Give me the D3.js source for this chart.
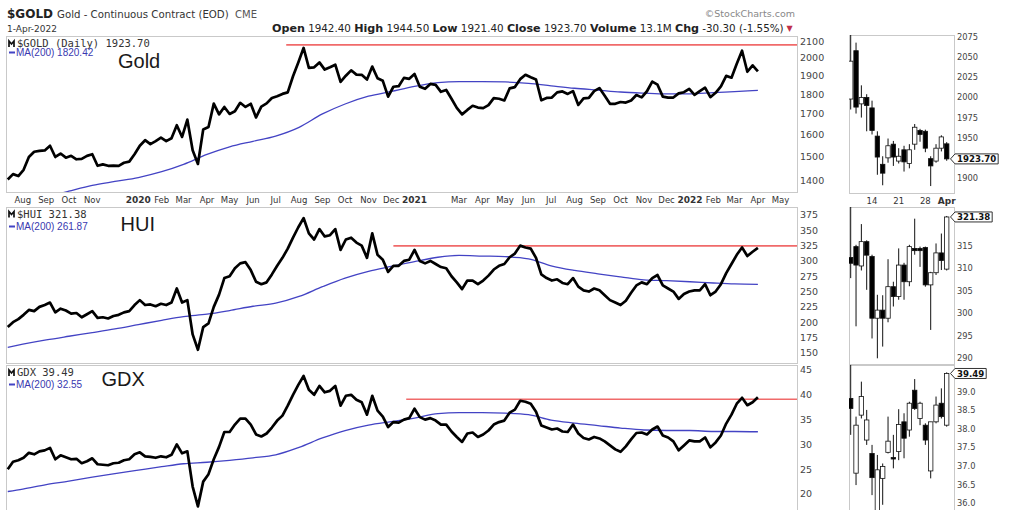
<!DOCTYPE html>
<html><head><meta charset="utf-8">
<script src="https://cdn.jsdelivr.net/npm/d3@7"></script>
<style>
body{margin:0;background:#fff;}
svg{display:block;font-family:"DejaVu Sans",sans-serif;}
</style></head><body>
<svg id="c" width="1027" height="510"></svg>
<script>
// ---------- DATA ----------
const weekStart = "2019-07-12"; // weekly closes, one per Friday through 2022-04-01
const goldClose = [1405,1427,1419,1445,1500,1523,1527,1529,1550,1500,1515,1497,1505,1490,1492,1505,1512,1462,1468,1462,1463,1462,1475,1480,1512,
1550,1575,1557,1571,1587,1571,1584,1645,1590,1672,1530,1470,1625,1637,1752,1698,1735,1700,1713,1756,1735,1751,1683,1737,1753,1781,1790,1802,1810,1897,1975,2060,1944,1947,1975,1934,1947,1962,1866,1900,1930,1906,1905,1879,1951,1886,1872,1788,1840,1843,1888,1883,
1910,1840,1829,1855,1850,1813,1823,1777,1730,1698,1720,1741,1732,1729,1744,1780,1777,1768,1831,1838,1881,1905,1891,1879,1769,1781,1783,1810,1815,1802,1817,1745,1779,1781,1817,1833,1792,1751,1751,1760,1757,1768,1796,1784,1816,1868,1851,1788,1783,1783,1805,1811,1829,
1797,1817,1835,1785,1808,1842,1899,1889,1967,2043,1922,1958,1923.7];
const huiClose = [192,200,205,212,220,218,225,228,232,216,222,219,214,215,208,213,218,207,208,206,210,212,216,218,228,
236,228,229,226,230,228,232,255,232,236,180,155,192,198,225,245,272,275,288,296,298,285,266,262,265,278,292,305,320,338,355,370,345,335,352,340,342,352,318,335,338,330,325,305,345,310,302,282,292,292,300,302,
318,300,296,300,295,290,288,275,265,254,268,268,262,268,276,286,292,295,306,312,325,322,320,305,278,272,268,270,264,262,272,258,252,250,255,252,244,236,232,228,235,248,260,265,262,272,277,260,255,250,238,246,250,
252,252,262,244,250,262,280,295,310,322,308,315,321.38];
const gdxClose = [25.0,26.5,26.8,27.3,28.3,28.0,28.6,28.8,29.3,27.0,27.8,27.4,27.0,27.1,26.2,26.6,27.2,26.0,25.9,25.8,26.2,26.3,26.8,27.0,28.0,
28.4,27.6,27.5,27.3,27.6,27.4,27.9,30.0,28.2,28.6,21.5,17.5,22.5,24.0,27.0,29.5,32.5,32.5,34.0,35.2,35.2,34.0,32.0,31.6,32.2,33.4,34.8,35.8,37.8,40.0,42.0,43.8,41.0,40.0,41.8,40.5,40.8,41.8,37.8,39.8,40.0,39.0,38.5,36.0,39.8,36.8,35.6,33.5,34.5,34.4,35.0,35.3,
37.2,35.5,35.0,35.3,34.8,34.0,34.0,32.6,31.5,30.5,32.2,32.4,31.5,32.0,32.8,34.0,34.5,34.8,36.4,37.0,38.8,38.6,38.2,36.6,33.8,33.4,33.0,33.2,32.6,32.5,34.0,32.2,31.3,31.0,31.5,31.2,30.6,29.8,29.0,28.5,29.6,31.0,32.3,32.4,32.0,33.0,33.6,31.8,31.4,30.6,28.8,29.8,30.8,
30.6,30.6,31.4,29.4,30.4,31.8,34.2,36.0,38.2,39.4,37.9,38.5,39.49];

const maDates = ["2019-07-12","2019-08-01","2019-09-01","2019-10-01","2019-11-01","2019-12-01","2020-01-01","2020-02-01","2020-03-01","2020-04-01","2020-05-01","2020-06-01","2020-07-01","2020-08-01","2020-09-01","2020-10-01","2020-11-01","2020-12-01","2021-01-01","2021-02-01","2021-03-01","2021-04-01","2021-05-01","2021-06-01","2021-07-01","2021-08-01","2021-09-01","2021-10-01","2021-11-01","2021-12-01","2022-01-01","2022-02-01","2022-03-01","2022-04-01"];
const goldMA = [1300,1318,1335,1358,1381,1397,1413,1437,1468,1511,1545,1570,1594,1635,1700,1750,1790,1815,1842,1862,1868,1868,1866,1858,1845,1832,1822,1812,1806,1802,1802,1809,1814,1820.42];
const huiMA = [159,164,171,177,183,189,196,203,209,213,219,226,231,242,258,272,283,291,299,306,309,308,307,303.5,292,284.5,279,274,269,267.7,266,264,262.5,261.87];
const gdxMA = [20.5,21.0,21.9,22.6,23.4,24.1,24.8,25.5,26.1,26.4,26.8,27.3,27.9,29.4,31.3,32.8,33.9,34.6,35.3,36.2,36.4,36.4,36.3,36.0,34.9,34.3,33.8,33.3,32.9,32.8,32.8,32.6,32.6,32.55];

// horizontal resistance lines: start date, level
const goldRes = ["2020-07-15", 2078];
const huiRes = ["2020-12-04", 324.6];
const gdxRes = ["2020-12-21", 39.1];

const goldTicks = [1400,1500,1600,1700,1800,1900,2000,2100];
const huiTicks = [150,175,200,225,250,275,300,325,350,375];
const gdxTicks = [20,25,30,35,40,45];

const monthTicks = [["2019-08-01","Aug"],["2019-09-01","Sep"],["2019-10-01","Oct"],["2019-11-01","Nov"],
["2020-01-01","2020"],["2020-02-01","Feb"],["2020-03-01","Mar"],["2020-04-01","Apr"],["2020-05-01","May"],["2020-06-01","Jun"],["2020-07-01","Jul"],["2020-08-01","Aug"],["2020-09-01","Sep"],["2020-10-01","Oct"],["2020-11-01","Nov"],["2020-12-01","Dec"],
["2021-01-01","2021"],["2021-03-01","Mar"],["2021-04-01","Apr"],["2021-05-01","May"],["2021-06-01","Jun"],["2021-07-01","Jul"],["2021-08-01","Aug"],["2021-09-01","Sep"],["2021-10-01","Oct"],["2021-11-01","Nov"],["2021-12-01","Dec"],
["2022-01-01","2022"],["2022-02-01","Feb"],["2022-03-01","Mar"],["2022-04-01","Apr"],["2022-05-01","May"]];

// mini daily candles
const miniDates = ["2022-03-08","2022-03-09","2022-03-10","2022-03-11","2022-03-14","2022-03-15","2022-03-16","2022-03-17","2022-03-18","2022-03-21","2022-03-22","2022-03-23","2022-03-24","2022-03-25","2022-03-28","2022-03-29","2022-03-30","2022-03-31","2022-04-01"];
const miniTicks = [["2022-03-14","14"],["2022-03-21","21"],["2022-03-28","28"],["2022-04-01","Apr"]];
const goldO = [1998,2058,1992,2000,1987,1952,1917,1925,1942,1921,1935,1918,1942,1959,1958,1924,1921,1937,1942.4];
const goldH = [2078,2068,2015,2004,1996,1958,1927,1949,1946,1937,1940,1942,1967,1961,1960,1927,1942,1953,1944.5];
const goldL = [1985,1980,1975,1958,1954,1904,1891,1919,1915,1918,1908,1912,1935,1945,1932,1890,1919,1933,1921.4];
const goldC = [2045,1988,2000,1990,1959,1926,1906,1940,1926,1927,1920,1935,1963,1954,1937,1915,1937,1951,1923.7];
const huiO = [312.4,314.8,310.5,315.9,312.6,298.9,300.7,298.9,305.9,303.7,310.7,307.0,314.4,314.4,314.6,306.3,309.0,313.4,309.8];
const huiH = [323.7,315.2,319.8,316.2,313.0,304.1,304.0,312.0,307.0,314.4,311.2,315.2,321.0,314.8,314.8,309.2,315.5,317.7,321.6];
const huiL = [307.8,297.1,309.5,305.2,294.4,290.0,292.6,298.0,301.5,303.0,303.0,306.0,313.0,310.3,305.9,296.3,308.5,309.6,309.5];
const huiC = [311.1,310.7,315.9,312.9,298.9,300.7,298.9,305.9,303.7,310.7,307.0,314.8,313.9,313.9,306.3,309.0,313.4,311.7,321.38];
const gdxO = [38.82,36.81,38.37,37.70,37.34,35.78,36.67,37.37,37.23,37.39,38.19,37.97,39.04,38.28,38.10,36.87,38.19,38.69,38.10];
const gdxH = [39.72,38.33,39.27,38.51,37.57,37.30,37.07,38.33,37.84,38.53,38.42,38.73,39.34,38.73,38.15,38.19,38.87,39.09,39.52];
const gdxL = [37.84,36.49,38.28,37.57,36.22,35.60,35.96,37.34,36.94,37.16,37.21,37.79,38.51,38.10,37.57,36.67,38.15,38.28,38.06];
const gdxC = [38.55,38.10,38.87,38.24,36.69,36.90,36.99,37.67,37.19,38.12,37.75,38.69,38.55,38.69,37.70,38.19,38.64,38.33,39.49];
// tick labels hidden behind the last-price boxes are left out
const goldMiniTicks = [1900,1950,1975,2000,2025,2050,2075];
const huiMiniTicks = [290,295,300,305,310,315];
const gdxMiniTicks = [36,36.5,37,37.5,38,38.5,39];

// ---------- DRAW ----------
const parse = d3.timeParse("%Y-%m-%d");
const svg = d3.select("#c");
const PL = 6, PR = 797, ML = 849, MR = 954;
const BLUE = "#4343c4", RED = "#f06a6a", BORDER = "#c9c9c9";

const t0 = parse(weekStart);
const weekDates = goldClose.map((_, i) => d3.timeDay.offset(t0, 7 * i));
const x = d3.scaleTime().domain([parse("2019-07-12"), parse("2022-04-01")]).range([7.75, 757.9]);
const maD = maDates.map(parse);

const panels = [
  {id:"g", top:36, bottom:192, y:d3.scaleLog().domain([1400,2100]).range([180.7,41.3]), ticks:goldTicks, fmt:d3.format("d"),
   close:goldClose, ma:goldMA, res:goldRes, title:"$GOLD (Daily) 1923.70", maText:"MA(200) 1820.42", big:"Gold", bigX:118, tY:11, mY:20, bY:32},
  {id:"h", top:207, bottom:363, y:d3.scaleLinear().domain([150,375]).range([352.8,215]), ticks:huiTicks, fmt:d3.format("d"),
   close:huiClose, ma:huiMA, res:huiRes, title:"$HUI 321.38", maText:"MA(200) 261.87", big:"HUI", bigX:120.5, tY:10.5, mY:23, bY:24},
  {id:"x", top:365, bottom:512, y:d3.scaleLinear().domain([20,45]).range([494,370]), ticks:gdxTicks, fmt:d3.format("d"),
   close:gdxClose, ma:gdxMA, res:gdxRes, title:"GDX 39.49", maText:"MA(200) 32.55", big:"GDX", bigX:101.5, tY:11, mY:23, bY:21}
];

const defs = svg.append("defs");

panels.forEach(p => {
  defs.append("clipPath").attr("id","clip"+p.id).append("rect")
    .attr("x",PL).attr("y",p.top).attr("width",PR-PL).attr("height",p.bottom-p.top);
  const g = svg.append("g");
  g.append("rect").attr("x",PL+0.5).attr("y",p.top+0.5).attr("width",PR-PL).attr("height",p.bottom-p.top)
    .attr("fill","#fff").attr("stroke",BORDER).attr("stroke-width",1);
  const c = g.append("g").attr("clip-path","url(#clip"+p.id+")");
  c.append("line").attr("x1",x(parse(p.res[0]))).attr("x2",PR).attr("y1",p.y(p.res[1])).attr("y2",p.y(p.res[1]))
    .attr("stroke",RED).attr("stroke-width",1.6);
  c.append("path").datum(p.ma.map((v,i)=>({d:maD[i],v})))
    .attr("d", d3.line().x(d=>x(d.d)).y(d=>p.y(d.v)).curve(d3.curveMonotoneX))
    .attr("fill","none").attr("stroke",BLUE).attr("stroke-width",1.3);
  c.append("path").datum(p.close.map((v,i)=>({d:weekDates[i],v})))
    .attr("d", d3.line().x(d=>x(d.d)).y(d=>p.y(d.v)))
    .attr("fill","none").attr("stroke","#000").attr("stroke-width",2.7).attr("stroke-linejoin","round");
  g.selectAll(".yt").data(p.ticks).enter().append("text")
    .attr("x",800).attr("y",d=>p.y(d)).attr("dy","0.36em")
    .attr("font-size",9.5).attr("fill","#454545").text(p.fmt);
  g.append("path").attr("d",`M${PL+3},${p.top+p.tY}v-6l2.5,3l2.5,-3v6`).attr("fill","none").attr("stroke","#111").attr("stroke-width",1.7);
  g.append("text").attr("x",PL+11).attr("y",p.top+p.tY).attr("font-family","DejaVu Sans Mono, monospace")
    .attr("font-size",10.5).attr("fill","#333").text(p.title);
  g.append("line").attr("x1",PL+3).attr("x2",PL+9).attr("y1",p.top+p.mY-3.5).attr("y2",p.top+p.mY-3.5).attr("stroke",BLUE).attr("stroke-width",2);
  g.append("text").attr("x",PL+10).attr("y",p.top+p.mY).attr("font-family","Liberation Sans, Arial, sans-serif")
    .attr("font-size",10).attr("fill","#3838b0").text(p.maText);
  g.append("text").attr("x",p.bigX).attr("y",p.top+p.bY).attr("font-family","Liberation Sans, Arial, sans-serif")
    .attr("font-size",20).attr("fill","#1a1a1a").text(p.big);
});

svg.selectAll(".xt").data(monthTicks).enter().append("text")
  .attr("x",d=>x(parse(d[0]))).attr("y",203).attr("text-anchor","middle")
  .attr("font-size",d=>/^\d+$/.test(d[1])?9:8.5).attr("font-weight",d=>/^\d+$/.test(d[1])?"bold":"normal")
  .attr("fill","#333").text(d=>d[1]);

// ---------- MINI PANELS ----------
const mx = d3.scalePoint().domain(miniDates).range([850.7, 946.7]);
const minis = [
  {id:"mg", top:35, bottom:193, y:d3.scaleLinear().domain([1900,2075]).range([178,37]), O:goldO,H:goldH,L:goldL,C:goldC, ticks:goldMiniTicks, fmt:d3.format("d"), last:"1923.70", lastV:1923.7},
  {id:"mh", top:207, bottom:364, y:d3.scaleLinear().domain([290,315]).range([358.3,245.7]), O:huiO,H:huiH,L:huiL,C:huiC, ticks:huiMiniTicks, fmt:d3.format("d"), last:"321.38", lastV:321.38},
  {id:"mx", top:365, bottom:512, y:d3.scaleLinear().domain([36,39]).range([503.3,391.7]), O:gdxO,H:gdxH,L:gdxL,C:gdxC, ticks:gdxMiniTicks, fmt:d3.format(".1f"), last:"39.49", lastV:39.49}
];
minis.forEach(m => {
  defs.append("clipPath").attr("id","clip"+m.id).append("rect")
    .attr("x",ML).attr("y",m.top).attr("width",MR-ML).attr("height",m.bottom-m.top);
  const g = svg.append("g");
  g.append("rect").attr("x",ML+0.5).attr("y",m.top+0.5).attr("width",MR-ML).attr("height",m.bottom-m.top)
    .attr("fill","#fff").attr("stroke",BORDER);
  const c = g.append("g").attr("clip-path","url(#clip"+m.id+")");
  miniDates.forEach((d,i) => {
    const cx = mx(d);
    c.append("line").attr("x1",cx).attr("x2",cx).attr("y1",m.y(m.H[i])).attr("y2",m.y(m.L[i])).attr("stroke","#111").attr("stroke-width",1);
    const up = m.C[i] >= m.O[i];
    const y1 = m.y(Math.max(m.O[i],m.C[i])), y2 = m.y(Math.min(m.O[i],m.C[i]));
    c.append("rect").attr("x",cx-2.2).attr("width",4.4).attr("y",y1).attr("height",Math.max(1,y2-y1))
      .attr("fill",up?"#fff":"#000").attr("stroke","#111").attr("stroke-width",0.8);
  });
  g.selectAll(".mt").data(m.ticks).enter().append("text")
    .attr("x",957).attr("y",d=>m.y(d)).attr("dy","0.36em").attr("font-size",8.3).attr("fill","#454545").text(m.fmt);
  const yc = m.y(m.lastV);
  const t = g.append("text").attr("x",957).attr("y",yc).attr("dy","0.36em").attr("font-size",8.6).attr("font-weight","bold").attr("fill","#111").text(m.last);
  const w = t.node().getComputedTextLength();
  g.insert("path", () => t.node())
    .attr("d",`M950.5,${yc}L955,${yc-5}H${959+w}V${yc+5}H955Z`).attr("fill","#fff").attr("stroke","#333").attr("stroke-width",1);
});
svg.selectAll(".mxt").data(miniTicks).enter().append("text")
  .attr("x",d=>mx(d[0])).attr("y",204).attr("text-anchor","middle")
  .attr("font-size",d=>d[1]==="Apr"?9:8.5).attr("font-weight",d=>d[1]==="Apr"?"bold":"normal").attr("fill","#333").text(d=>d[1]);

// ---------- HEADER ----------
function fitWidth(sel, target){
  const w = sel.node().getComputedTextLength();
  sel.attr("font-size", (+sel.attr("font-size")) * target / w);
}
svg.append("text").attr("x",7).attr("y",18).attr("font-size",12).attr("font-weight","bold").attr("fill","#222").text("$GOLD");
fitWidth(svg.append("text").attr("x",57).attr("y",18).attr("font-size",9).attr("fill","#333").text("Gold - Continuous Contract (EOD)"), 172);
fitWidth(svg.append("text").attr("x",235).attr("y",18).attr("font-size",8).attr("fill","#555").text("CME"), 22);
svg.append("text").attr("x",795).attr("y",17).attr("text-anchor","end").attr("font-size",9.5).attr("fill","#888").text("©StockCharts.com");
svg.append("text").attr("x",7).attr("y",32).attr("font-size",9).attr("fill","#333").text("1-Apr-2022");
const ohlc = [["Open",true],[" 1942.40 ",false],["High",true],[" 1944.50 ",false],["Low",true],[" 1921.40 ",false],["Close",true],[" 1923.70 ",false],["Volume",true],[" 13.1M ",false],["Chg",true],[" -30.30 (-1.55%)",false]];
const ot = svg.append("text").attr("x",272).attr("y",32).attr("font-size",10).attr("fill","#222").attr("xml:space","preserve");
ohlc.forEach(s => ot.append("tspan").attr("font-weight",s[1]?"bold":"normal").attr("font-size",s[1]?10:9.3).text(s[0]));
const ow = ot.node().getComputedTextLength();
const k = 512 / ow;
ot.selectAll("tspan").attr("font-size", function(){ return (+d3.select(this).attr("font-size"))*k; });
svg.append("text").attr("x",786.5).attr("y",31).attr("font-size",8).attr("fill","#c0304a").text("▼");
</script>
</body></html>
